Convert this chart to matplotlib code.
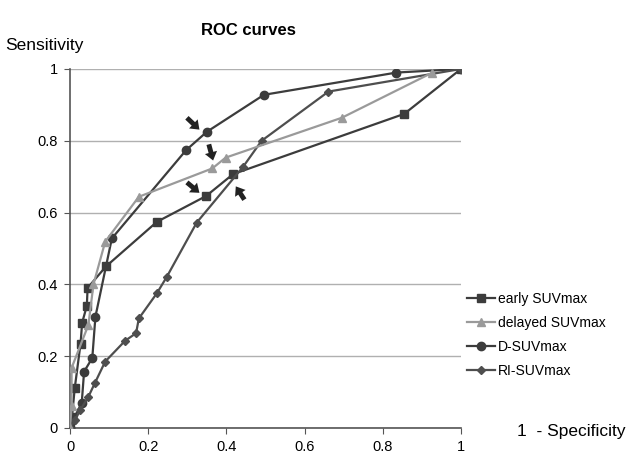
import matplotlib
matplotlib.use("Agg")
import matplotlib.pyplot as plt
from matplotlib.lines import Line2D

plt.rcParams['font.family'] = ['Liberation Sans', 'DejaVu Sans']

# 1 - specificity / sensitivity pairs
early_x = [0, 0.005, 0.012, 0.027, 0.031, 0.043, 0.045, 0.092, 0.222, 0.348, 0.417, 0.855, 1.0]
early_y = [0, 0.03, 0.11, 0.235, 0.293, 0.34, 0.39, 0.45, 0.574, 0.646, 0.707, 0.875, 1.0]

delayed_x = [0, 0.004, 0.004, 0.047, 0.06, 0.09, 0.176, 0.364, 0.398, 0.695, 0.927]
delayed_y = [0, 0.06, 0.167, 0.287, 0.40, 0.519, 0.644, 0.723, 0.753, 0.864, 0.99]

d_x = [0, 0.008, 0.03, 0.036, 0.057, 0.065, 0.107, 0.297, 0.35, 0.496, 0.835, 1.0]
d_y = [0, 0.022, 0.07, 0.157, 0.195, 0.31, 0.528, 0.774, 0.825, 0.928, 0.99, 1.0]

ri_x = [0, 0.013, 0.026, 0.047, 0.064, 0.09, 0.141, 0.169, 0.176, 0.222, 0.247, 0.324, 0.443, 0.49, 0.661, 1.0]
ri_y = [0, 0.022, 0.05, 0.087, 0.126, 0.185, 0.243, 0.264, 0.305, 0.375, 0.42, 0.572, 0.728, 0.80, 0.937, 1.0]

labels = ['early SUVmax', 'delayed SUVmax', 'D-SUVmax', 'RI-SUVmax']

# arrows marking the cut-off points (tail, head)
arrows = [((0.299, 0.864), (0.331, 0.831)),
          ((0.355, 0.790), (0.366, 0.745)),
          ((0.299, 0.684), (0.331, 0.655)),
          ((0.446, 0.636), (0.424, 0.673))]

fig = plt.figure(figsize=(6.33, 4.57), dpi=100)
ax = fig.add_axes([0.1106, 0.0635, 0.6177, 0.7856])

ax.plot(early_x, early_y, color='#3c3c3c', lw=1.6, marker='s', ms=6, zorder=3)
ax.plot(delayed_x, delayed_y, color='#9a9a9a', lw=1.6, marker='^', ms=6, zorder=4)
ax.plot(d_x, d_y, color='#3c3c3c', lw=1.6, marker='o', ms=6, zorder=3)
ax.plot(ri_x, ri_y, color='#4e4e4e', lw=1.6, marker='D', ms=4, zorder=3)

for tail, head in arrows:
    ax.annotate('', xy=head, xytext=tail,
                arrowprops=dict(facecolor='#222222', edgecolor='none',
                                width=3.5, headwidth=9, headlength=6, shrink=0),
                zorder=5)

ax.set_xlim(0, 1)
ax.set_ylim(0, 1)
ax.set_xticks([0, 0.2, 0.4, 0.6, 0.8, 1])
ax.set_xticklabels(['0', '0.2', '0.4', '0.6', '0.8', '1'])
ax.set_yticks([0, 0.2, 0.4, 0.6, 0.8, 1])
ax.set_yticklabels(['0', '0.2', '0.4', '0.6', '0.8', '1'])
ax.tick_params(labelsize=10.5, length=4, color='#555555', pad=5)
ax.yaxis.grid(True, color='#b0b0b0', lw=1)
ax.set_axisbelow(True)
for s in ['top', 'right']:
    ax.spines[s].set_visible(False)
for s in ['left', 'bottom']:
    ax.spines[s].set_color('#555555')
    ax.spines[s].set_linewidth(1.2)

fig.text(0.393, 0.933, 'ROC curves', ha='center', va='center', fontsize=12, fontweight='bold')
fig.text(0.008, 0.90, 'Sensitivity', ha='left', va='center', fontsize=12.5)
fig.text(0.816, 0.055, '1  - Specificity', ha='left', va='center', fontsize=12.5)

handles = [
    Line2D([], [], color='#3c3c3c', lw=1.6, marker='s', ms=6),
    Line2D([], [], color='#9a9a9a', lw=1.6, marker='^', ms=6),
    Line2D([], [], color='#3c3c3c', lw=1.6, marker='o', ms=6),
    Line2D([], [], color='#4e4e4e', lw=1.6, marker='D', ms=4),
]
fig.legend(handles, labels, loc='upper left', bbox_to_anchor=(0.718, 0.388),
           frameon=False, fontsize=10, handlelength=2.0, handletextpad=0.2,
           labelspacing=0.72, numpoints=1)

fig.savefig('out.png', dpi=100)
